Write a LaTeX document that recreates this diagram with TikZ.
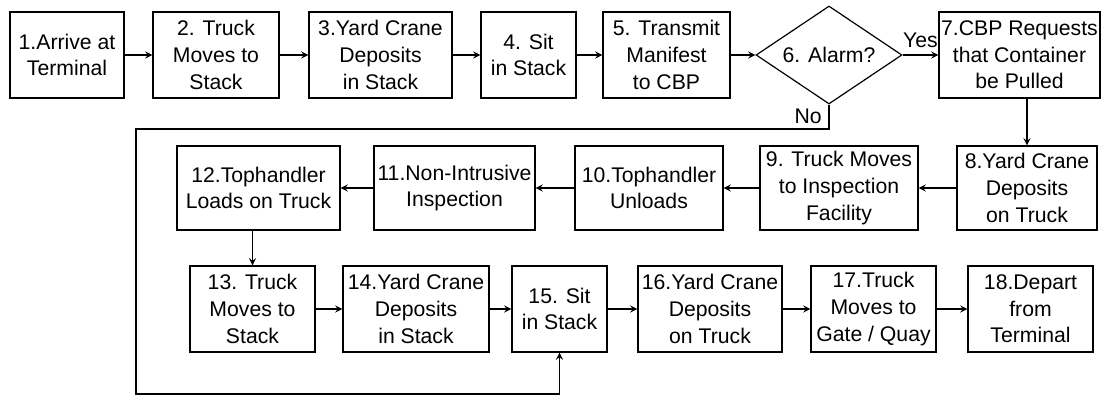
\documentclass[tikz,border=0pt]{standalone}
\usepackage{fontspec}
\setmainfont{Liberation Sans}
\usetikzlibrary{shapes.geometric}

\begin{document}
\begin{tikzpicture}[x=0.5pt,y=-0.5pt,line width=0.6pt,
  box/.style={draw,align=center,inner xsep=0pt,inner ysep=1pt,minimum height=43pt,
    font=\fontsize{10.6}{13.3}\selectfont},
  decision/.style={draw,diamond,inner sep=0pt,aspect=1.5,minimum width=73pt,minimum height=49pt,
    font=\fontsize{10.6}{13.3}\selectfont},
  lbl/.style={font=\fontsize{10.6}{13.3}\selectfont}]
  \useasboundingbox (0,0) rectangle (1102,395);
  % first row
  \node[box,minimum width=57pt]   (arrive)   at (67,55)     {1.Arrive at\\Terminal};
  \node[box,minimum width=63pt]   (tostack)  at (216,55)    {2. Truck\\Moves to\\Stack};
  \node[box,minimum width=71.5pt] (deposit)  at (380.5,55)  {3.Yard Crane\\Deposits\\ in Stack};
  \node[box,minimum width=47.5pt] (sit)      at (528.5,55)  {4. Sit\\in Stack};
  \node[box,minimum width=63.5pt] (transmit) at (666.5,55)  {5. Transmit\\Manifest\\to CBP};
  \node[decision]                 (alarm)    at (829,55)    {6. Alarm?};
  \node[box,minimum width=80.5pt] (request)  at (1019.5,55) {7.CBP Requests\\that Container\\be Pulled};
  % second row, right to left
  \node[box,minimum width=70pt,minimum height=42pt]   (crane)  at (1027,188)  {8.Yard Crane\\Deposits\\on Truck};
  \node[box,minimum width=79pt,minimum height=42pt]   (toinsp) at (839,188)   {9. Truck Moves\\to Inspection\\Facility};
  \node[box,minimum width=74pt,minimum height=42pt]   (unload) at (649,188)   {10.Tophandler\\Unloads};
  \node[box,minimum width=80.5pt,minimum height=42pt] (nii)    at (454.5,188) {11.Non-Intrusive\\Inspection};
  \node[box,minimum width=81.5pt,minimum height=42pt] (load)   at (258.5,188) {12.Tophandler\\Loads on Truck};
  % third row
  \node[box,minimum width=62.5pt] (tostackb)   at (252.5,309) {13. Truck\\Moves to\\Stack};
  \node[box,minimum width=73pt]   (depositb)   at (416,309)   {14.Yard Crane\\Deposits\\in Stack};
  \node[box,minimum width=47.5pt] (sitb)       at (559.5,309) {15. Sit\\in Stack};
  \node[box,minimum width=72pt]   (cranetruck) at (710,309)   {16.Yard Crane\\Deposits\\on Truck};
  \node[box,minimum width=62.5pt] (togate)     at (873.5,309) {17.Truck\\Moves to\\Gate / Quay};
  \node[box,minimum width=62.5pt] (depart)     at (1030.5,309){18.Depart\\from\\Terminal};

  \path[-stealth]
    (arrive) edge (tostack)
    (tostack) edge (deposit)
    (deposit) edge (sit)
    (sit) edge (transmit)
    (transmit) edge (alarm)
    (alarm) edge node[lbl,above] {Yes} (request)
    (crane.north |- request.south) edge (crane.north)
    (crane) edge (toinsp)
    (toinsp) edge (unload)
    (unload) edge (nii)
    (nii) edge (load)
    (tostackb.north |- load.south) edge (tostackb.north)
    (tostackb) edge (depositb)
    (depositb) edge (sitb)
    (sitb) edge (cranetruck)
    (cranetruck) edge (togate)
    (togate) edge (depart);

  % no alarm: straight back to the stack
  \coordinate (loopa) at (136,129);
  \coordinate (loopb) at (136,394);
  \draw[-stealth] (alarm.south) -- node[lbl,left] {No} (alarm.south |- loopa) -- (loopa)
    -- (loopb) -- (sitb.south |- loopb) -- (sitb.south);
\end{tikzpicture}
\end{document}
